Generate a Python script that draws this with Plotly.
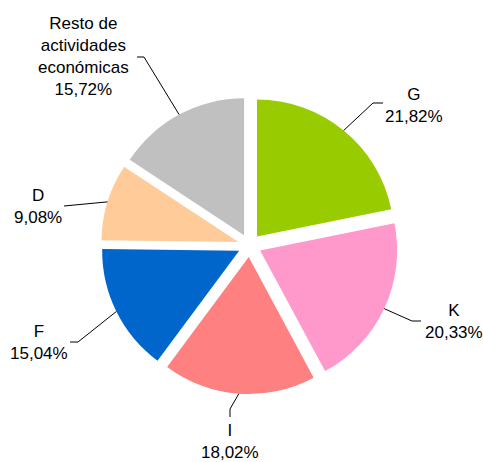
import math
import plotly.graph_objects as go

# ---- data ----
categories = ["G", "K", "I", "F", "D", "Resto de<br>actividades<br>económicas"]
shares = [21.82, 20.33, 18.02, 15.04, 9.08, 15.72]
colors = ["#99CC00", "#FF99CC", "#FF8080", "#0066CC", "#FFCC99", "#C0C0C0"]

# ---- layout constants (figure pixels) ----
W, H = 483, 462
CX, CY = 249.6, 245.5      # pie centre
R = 137.0                  # pie radius
PULL = 0.085               # explode fraction
FONT = dict(family="Liberation Sans, Arial, sans-serif", size=17, color="#000000")

# label block centres and leader-line bend / end points (layout only)
label_pos = [(414, 105), (454, 321), (230, 441), (39, 342), (38, 206), (83, 57)]
leader_bend = [(373, 103), (412, 321), (230, 409), (78, 342), (64, 206), (144, 57)]
leader_end = [(383, 103), (421, 321), (230, 417), (70, 342), (64, 206), (137, 57)]

half = R * (1 + PULL)
domain_x = [(CX - half) / W, (CX + half) / W]
domain_y = [1 - (CY + half) / H, 1 - (CY - half) / H]

fig = go.Figure(go.Pie(
    labels=categories,
    values=shares,
    textinfo="none",
    sort=False,
    direction="clockwise",
    rotation=0,
    pull=PULL,
    marker=dict(colors=colors, line=dict(width=0)),
    domain=dict(x=domain_x, y=domain_y),
    showlegend=False,
    hoverinfo="label+percent",
))


def px(x, y):
    return x / W, 1 - y / H


total = sum(shares)
cum = 0.0
shapes = []
annotations = []
for i, (cat, v) in enumerate(zip(categories, shares)):
    mid = (cum + v / 2) / total * 2 * math.pi
    cum += v
    s, c = math.sin(mid), -math.cos(mid)
    d = R * PULL
    ax = CX + s * (d + R)
    ay = CY + c * (d + R)
    p0 = px(ax, ay)
    p1 = px(*leader_bend[i])
    p2 = px(*leader_end[i])
    shapes.append(dict(
        type="path", xref="paper", yref="paper",
        path=f"M {p0[0]},{p0[1]} L {p1[0]},{p1[1]} L {p2[0]},{p2[1]}",
        line=dict(color="#000000", width=1),
    ))
    lx, ly = px(*label_pos[i])
    txt = f"{cat}<br>{v:.2f}%".replace(".", ",")
    annotations.append(dict(
        x=lx, y=ly, xref="paper", yref="paper",
        text=txt, showarrow=False, xanchor="center", yanchor="middle",
        align="center", font=FONT,
    ))

fig.update_layout(
    width=W, height=H,
    margin=dict(l=0, r=0, t=0, b=0),
    paper_bgcolor="white",
    plot_bgcolor="white",
    showlegend=False,
    shapes=shapes,
    annotations=annotations,
)

fig.write_html(
    "out.html",
    config={"displayModeBar": False},
    post_script="document.body.style.margin='0';document.body.style.overflow='hidden';",
)
